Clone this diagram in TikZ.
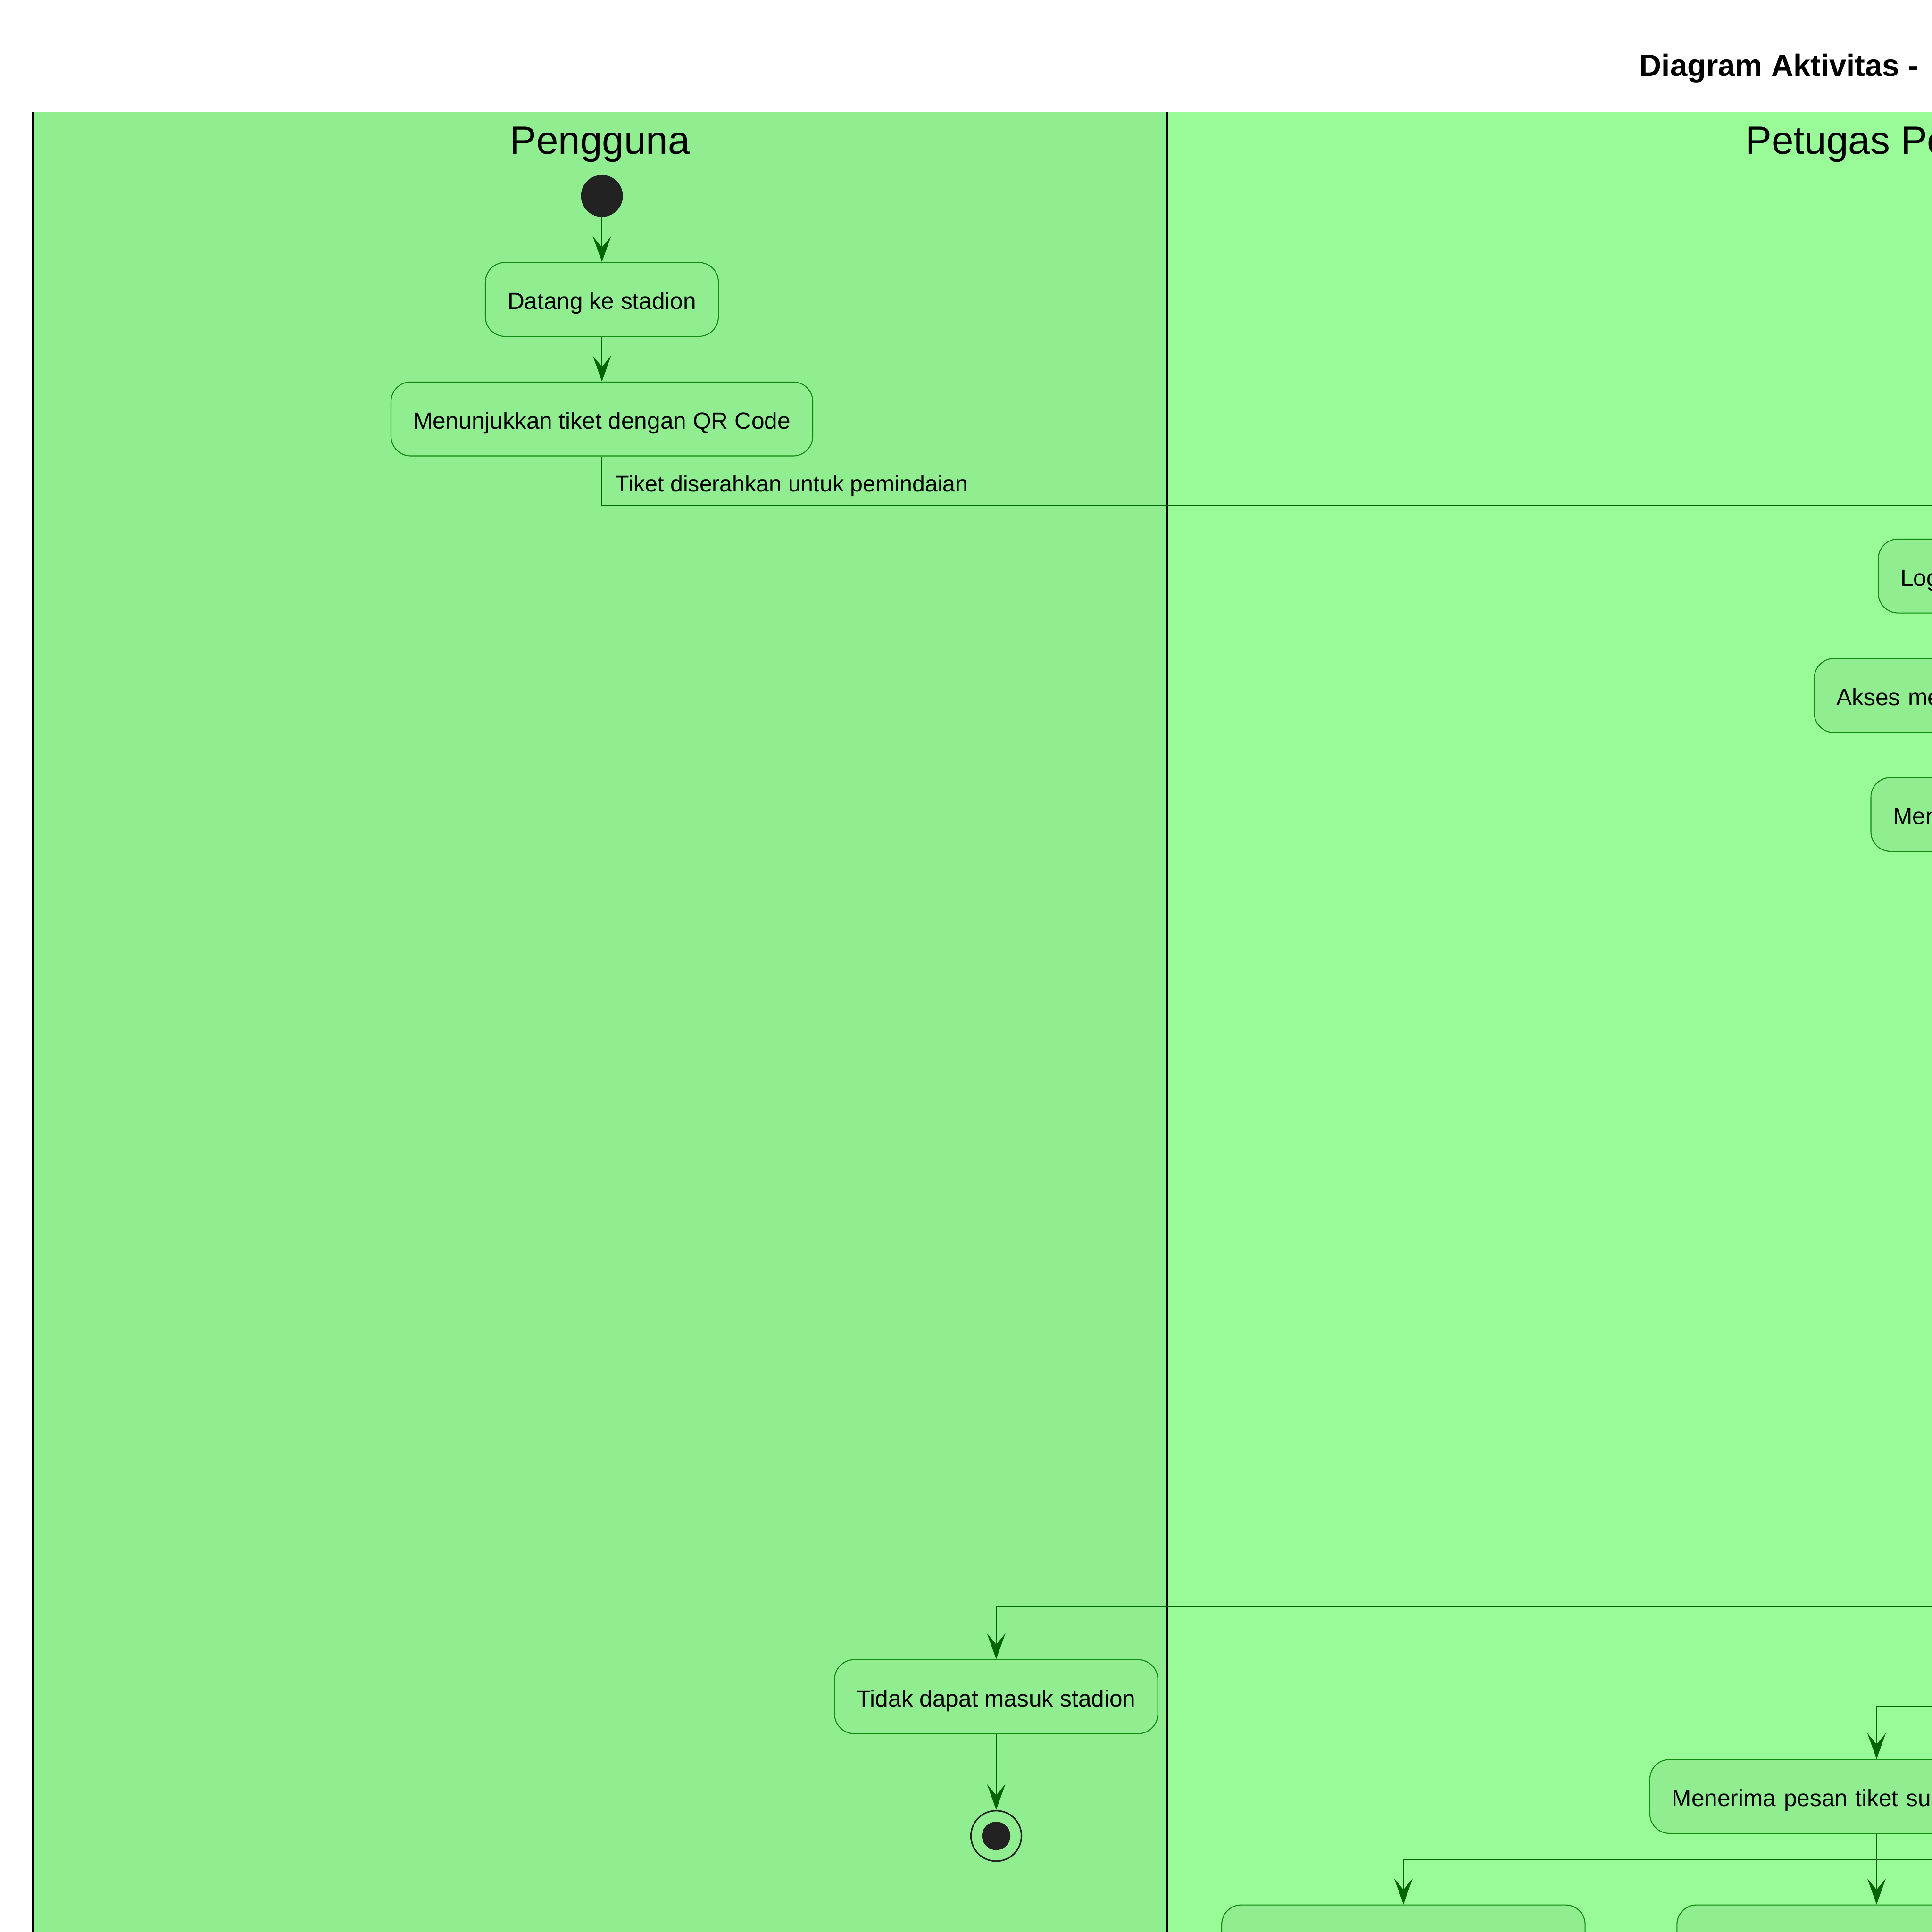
\documentclass[tikz,border=0pt]{standalone}
\usepackage{fontspec}
\setmainfont{Liberation Sans}
\usetikzlibrary{arrows.meta}

\definecolor{laneA}{HTML}{90EE90}
\definecolor{laneB}{HTML}{98FB98}
\definecolor{actfill}{HTML}{90EE90}
\definecolor{actline}{HTML}{138A13}
\definecolor{flowline}{HTML}{006400}
\definecolor{dotfill}{HTML}{222222}

\tikzset{
  act/.style={draw=actline, fill=actfill, line width=0.8pt, rounded corners=16pt,
    minimum height=60pt, inner xsep=18pt, text height=16pt, text depth=0pt,
    font=\fontsize{19}{23}\selectfont},
  actcut/.style={act, anchor=west, text width=#1, align=left},
  flow/.style={draw=flowline, line width=1pt, -{Stealth[length=21pt,width=15pt,inset=9pt]}},
  link/.style={draw=flowline, line width=1pt},
  lanehead/.style={font=\fontsize{32}{38}\selectfont},
  laneline/.style={draw=black, line width=1.6pt},
}

\begin{document}
\begin{tikzpicture}[x=1pt,y=1pt,yscale=-1,xscale=1]
\useasboundingbox (0,0) rectangle (1568,1568);
\clip (0,0) rectangle (1568,1568);

%Lanes
\fill[laneA] (27,91) rectangle (947,1600);
\fill[laneB] (947,91) rectangle (1600,1600);
\draw[laneline] (27,91) -- (27,1600);
\draw[laneline] (947,91) -- (947,1600);

% Text Node
\node[anchor=base west, font=\bfseries\fontsize{25}{30}\selectfont] (judul) at (1327,62) {Diagram Aktivitas -};
% Text Node
\node[lanehead, anchor=base] (pengguna) at (487,125) {Pengguna};
% Text Node
\node[lanehead, anchor=base west] (petugas) at (1413,125) {Petugas Pe};

%Shape: Circle
\node[circle, fill=dotfill, minimum size=34pt, inner sep=0pt] (mulai) at (488.5,159) {};

% Pengguna
\node[act] (datang) at (488.5,243) {Datang ke stadion};
\node[act] (tunjuk) at (488.5,340) {Menunjukkan tiket dengan QR Code};
\node[act] (tidak) at (808.5,1377) {Tidak dapat masuk stadion};
\node[circle, draw=dotfill, line width=1.2pt, minimum size=41pt, inner sep=0pt] (selesai) at (808.5,1490) {};
\node[circle, fill=dotfill, minimum size=23pt, inner sep=0pt] (selesaidot) at (808.5,1490) {};

% Petugas
\node[actcut=150pt] (login) at (1524,467.5) {Log};
\node[actcut=150pt] (akses) at (1472,564.5) {Akses me};
\node[actcut=150pt] (men) at (1518,661) {Men};
\node[act, text width=332pt, align=left] (terima) at (1523,1458) {Menerima pesan tiket suc};
\node[act, minimum width=295pt] (bawahA) at (1139,1576) {};
\node[act, minimum width=324pt] (bawahB) at (1523,1576) {};

\coordinate (serah) at (1600,410);
\coordinate (tolak) at (1600,1304);
\coordinate (sukses) at (1600,1385);
\coordinate (garpu) at (1600,1509);

%Straight Lines
\draw[flow] (mulai) -- (datang);
\draw[flow] (datang) -- (tunjuk);
\draw[link] (tunjuk) |- (serah);
\draw[flow] (tolak) -| (tidak);
\draw[flow] (tidak) -- (selesai);
\draw[flow] (sukses) -| (terima);
\draw[flow] (terima) -- (bawahB);
\draw[flow] (garpu) -| (bawahA);

% Text Node
\node[anchor=base west, font=\fontsize{18.5}{22}\selectfont] (lblserah) at (496,399) {Tiket diserahkan untuk pemindaian};

\end{tikzpicture}
\end{document}
